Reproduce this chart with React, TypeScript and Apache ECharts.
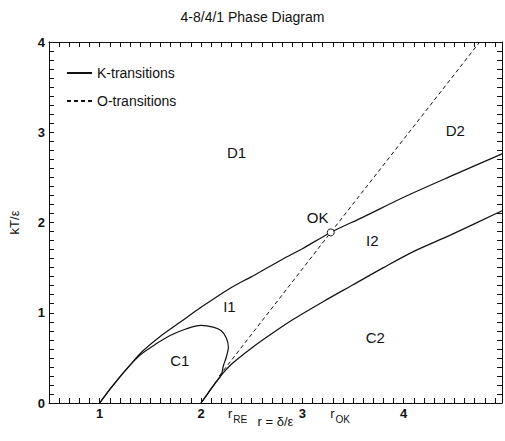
import React, { useEffect, useRef } from "react";
import * as echarts from "echarts";

const FONT = '"Liberation Sans", Arial, Helvetica, sans-serif';
const INK = "#111";

// axis ranges
const xMin = 0.5;
const xMax = 4.97;
const yMin = 0;
const yMax = 4;

// K-transitions (solid)
const kUpper: number[][] = [
  [1.0, 0], [1.1, 0.15], [1.2, 0.29], [1.3, 0.42], [1.42, 0.57], [1.6, 0.74],
  [1.8, 0.9], [2.0, 1.06], [2.3, 1.28], [2.5, 1.4], [2.8, 1.59], [3.0, 1.71],
  [3.28, 1.89], [3.6, 2.06], [4.0, 2.28], [4.5, 2.53], [4.97, 2.76],
];
const kDome: number[][] = [
  [1.0, 0], [1.1, 0.15], [1.2, 0.29], [1.3, 0.42], [1.42, 0.55], [1.55, 0.65],
  [1.7, 0.75], [1.85, 0.82], [2.0, 0.86], [2.12, 0.84], [2.2, 0.8], [2.25, 0.72],
  [2.27, 0.62], [2.25, 0.51], [2.22, 0.41], [2.2, 0.31], [2.14, 0.22], [2.07, 0.11], [2.0, 0],
];
const kLower: number[][] = [
  [2.0, 0], [2.07, 0.11], [2.14, 0.22], [2.2, 0.31], [2.3, 0.43], [2.5, 0.61],
  [2.7, 0.77], [2.9, 0.92], [3.2, 1.12], [3.5, 1.31], [3.8, 1.5], [4.1, 1.68],
  [4.46, 1.86], [4.97, 2.13],
];
// O-transitions (dashed)
const oLine: number[][] = [[2.18, 0.3], [3.28, 1.89], [4.75, 4.0]];
// OK point
const okPoint: number[] = [3.28, 1.89];

// region labels
const regionNames = ["D1", "D2", "OK", "I1", "I2", "C1", "C2"];
const regionR = [2.35, 4.51, 3.15, 2.28, 3.69, 1.79, 3.72];
const regionKT = [2.78, 3.02, 2.06, 1.07, 1.8, 0.47, 0.73];

// r markers on the axis
const markSubs = ["RE", "OK"];
const markR = [2.27, 3.28];

const isInt = (v: number) => Math.abs(v - Math.round(v)) < 1e-6;

export default function App() {
  const ref = useRef<HTMLDivElement>(null);
  useEffect(() => {
    const chart = echarts.init(ref.current!, null, { renderer: "svg" });
    const lab = {
      show: true, margin: 4, color: INK, fontSize: 13, fontWeight: "bold", fontFamily: FONT,
      formatter: (v: number) => (isInt(v) ? String(Math.round(v)) : ""),
    };
    const ax = (pos: string, min: number, max: number, labels: boolean, extra: any = {}) => ({
      type: "value", position: pos, min, max, interval: 0.1,
      axisLine: { show: true, onZero: false, lineStyle: { color: INK } },
      axisTick: { show: true, inside: true, length: 5, lineStyle: { color: INK } },
      axisLabel: labels ? lab : { show: false },
      splitLine: { show: false },
      ...extra,
    });
    const regionPoints = regionNames.map((n, i) => ({
      name: n,
      coord: [regionR[i], regionKT[i]],
      symbol: "circle",
      symbolSize: 1,
      itemStyle: { color: "transparent" },
      label: { show: true, position: "inside", formatter: "{b}", fontSize: 15, fontFamily: FONT, color: INK },
    }));
    const rPoints = markSubs.map((s, i) => ({
      name: s,
      coord: [markR[i], yMin],
      symbol: "circle",
      symbolSize: 1,
      itemStyle: { color: "transparent" },
      label: {
        show: true, position: [0, 4], align: "left", verticalAlign: "top", color: INK,
        formatter: `{m|r}{s|${s}}`,
        rich: {
          m: { fontSize: 13, fontFamily: FONT, color: INK, verticalAlign: "top" },
          s: { fontSize: 10, fontFamily: FONT, color: INK, verticalAlign: "top", padding: [8, 0, 0, 1] },
        },
      },
    }));
    const okMark = {
      name: "okpt",
      coord: okPoint,
      symbol: "circle",
      symbolSize: 7,
      itemStyle: { color: "#fff", borderColor: INK, borderWidth: 1 },
      label: { show: false },
    };
    chart.setOption({
      animation: false,
      title: {
        text: "4-8/4/1 Phase Diagram",
        left: "center",
        top: 5,
        textStyle: { fontSize: 14, fontWeight: "normal", fontFamily: FONT, color: INK },
      },
      legend: {
        data: ["K-transitions", "O-transitions"],
        orient: "vertical",
        left: 66,
        top: 66,
        padding: 0,
        itemWidth: 25,
        itemHeight: 14,
        itemGap: 14,
        itemStyle: { opacity: 0 },
        textStyle: { fontSize: 14, fontFamily: FONT, color: INK },
      },
      grid: { left: 46, right: 2, top: 42, bottom: 38 },
      xAxis: [
        ax("bottom", xMin, xMax, true, {
          name: "r = δ/ε", nameLocation: "middle", nameGap: 12, nameMoveOverlap: false,
          nameTextStyle: { fontSize: 13, fontFamily: FONT, color: INK },
        }),
        ax("top", xMin, xMax, false),
      ],
      yAxis: [
        ax("left", yMin, yMax, true, {
          name: "kT/ε", nameLocation: "middle", nameGap: 28, nameRotate: 90,
          nameTextStyle: { fontSize: 13, fontFamily: FONT, color: INK },
        }),
        ax("right", yMin, yMax, false),
      ],
      series: [
        { name: "K-transitions", type: "line", data: kUpper, smooth: 0.3, symbol: "none",
          lineStyle: { color: INK, width: 1.2 }, itemStyle: { color: INK } },
        { name: "K-transitions", type: "line", data: kDome, smooth: 0.3, symbol: "none",
          lineStyle: { color: INK, width: 1.2 }, itemStyle: { color: INK } },
        { name: "K-transitions", type: "line", data: kLower, smooth: 0.3, symbol: "none",
          lineStyle: { color: INK, width: 1.2 }, itemStyle: { color: INK } },
        { name: "O-transitions", type: "line", data: oLine, symbol: "none",
          lineStyle: { color: INK, width: 1, type: [4, 3] }, itemStyle: { color: INK },
          markPoint: { silent: true, animation: false, data: [okMark, ...regionPoints, ...rPoints] } },
      ],
    });
    return () => chart.dispose();
  }, []);
  return (
    <div ref={ref} style={{ position: "fixed", left: 0, top: 0, width: 505, height: 441, background: "#fff" }} />
  );
}
